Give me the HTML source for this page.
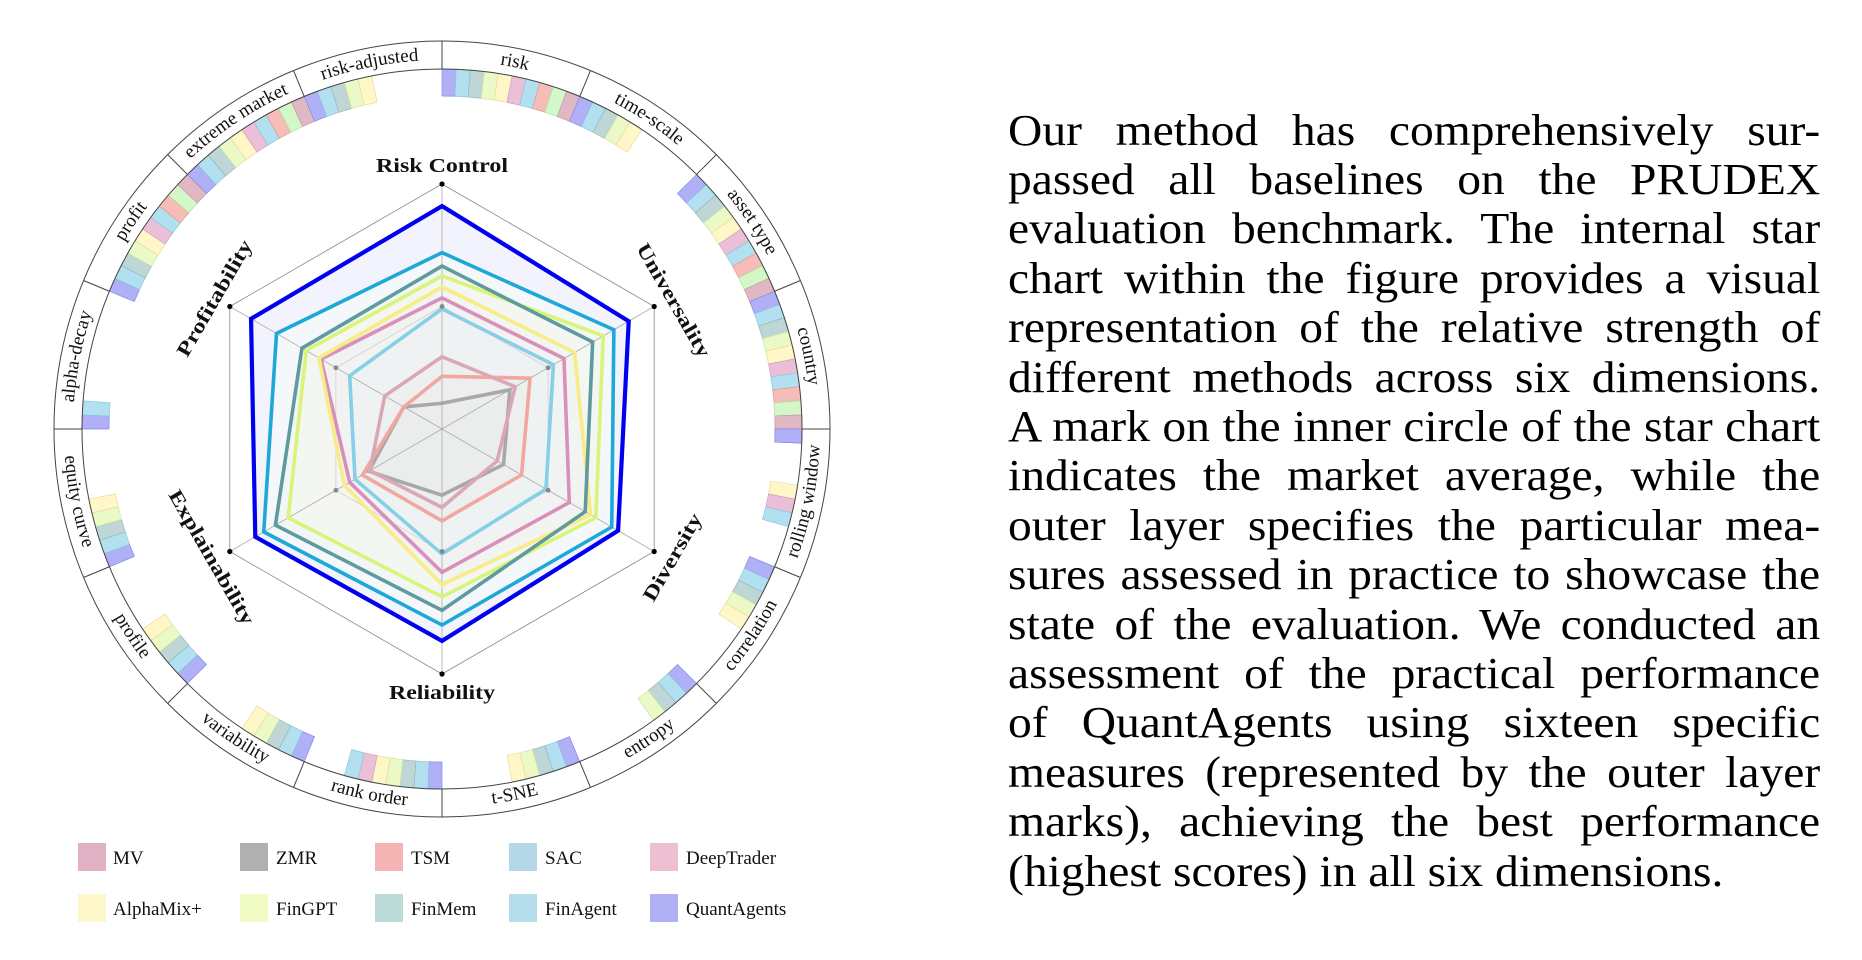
<!DOCTYPE html>
<html><head><meta charset="utf-8">
<style>
html,body{margin:0;padding:0;background:#fff;}
body{width:1862px;height:960px;position:relative;overflow:hidden;}
#txt{position:absolute;left:1008px;top:105.5px;width:752px;font-family:"Liberation Serif",serif;font-size:44px;line-height:49.4px;color:#000;transform:scaleX(1.08);transform-origin:0 0;}
#txt div{text-align:justify;text-align-last:justify;white-space:nowrap;}
#txt div.l{text-align-last:left;}
svg text{font-family:"Liberation Serif",serif;}
</style></head><body>
<svg id="fig" width="931" height="960" style="position:absolute;left:0;top:0">
<defs id="defs"></defs>
<g id="bars"></g>
<g id="ring" fill="none" stroke="#444" stroke-width="1">
<circle cx="442" cy="429" r="388"/>
<circle cx="442" cy="429" r="360"/>
</g>
<g id="radar"></g>
<g font-size="19" fill="#111" id="slabels">
<text><textPath href="#p0" startOffset="50%" text-anchor="middle">risk</textPath></text>
<text><textPath href="#p1" startOffset="50%" text-anchor="middle">time-scale</textPath></text>
<text><textPath href="#p2" startOffset="50%" text-anchor="middle">asset type</textPath></text>
<text><textPath href="#p3" startOffset="50%" text-anchor="middle">country</textPath></text>
<text><textPath href="#p4" startOffset="50%" text-anchor="middle">rolling window</textPath></text>
<text><textPath href="#p5" startOffset="50%" text-anchor="middle">correlation</textPath></text>
<text><textPath href="#p6" startOffset="50%" text-anchor="middle">entropy</textPath></text>
<text><textPath href="#p7" startOffset="50%" text-anchor="middle">t-SNE</textPath></text>
<text><textPath href="#p8" startOffset="50%" text-anchor="middle">rank order</textPath></text>
<text><textPath href="#p9" startOffset="50%" text-anchor="middle">variability</textPath></text>
<text><textPath href="#p10" startOffset="50%" text-anchor="middle">profile</textPath></text>
<text><textPath href="#p11" startOffset="50%" text-anchor="middle">equity curve</textPath></text>
<text><textPath href="#p12" startOffset="50%" text-anchor="middle">alpha-decay</textPath></text>
<text><textPath href="#p13" startOffset="50%" text-anchor="middle">profit</textPath></text>
<text><textPath href="#p14" startOffset="50%" text-anchor="middle">extreme market</textPath></text>
<text><textPath href="#p15" startOffset="50%" text-anchor="middle">risk-adjusted</textPath></text>
</g>
<g font-size="20" font-weight="bold" fill="#111" text-anchor="middle">
<text x="442" y="172" textLength="132" lengthAdjust="spacingAndGlyphs">Risk Control</text>
<text x="442" y="699" textLength="106" lengthAdjust="spacingAndGlyphs">Reliability</text>
<text transform="translate(674,300) rotate(60)" dy="7" textLength="128" lengthAdjust="spacingAndGlyphs">Universality</text>
<text transform="translate(672,557) rotate(-60)" dy="7" textLength="98" lengthAdjust="spacingAndGlyphs">Diversity</text>
<text transform="translate(212,557) rotate(60)" dy="7" textLength="152" lengthAdjust="spacingAndGlyphs">Explainability</text>
<text transform="translate(214,298) rotate(-60)" dy="7" textLength="131" lengthAdjust="spacingAndGlyphs">Profitability</text>
</g>
<g font-size="19" fill="#111">
<rect x="78" y="843" width="28" height="28" fill="#e0b2c4"/><text x="113" y="864">MV</text>
<rect x="240" y="843" width="28" height="28" fill="#b0b0b0"/><text x="276" y="864">ZMR</text>
<rect x="375" y="843" width="28" height="28" fill="#f4b4b4"/><text x="411" y="864">TSM</text>
<rect x="509" y="843" width="28" height="28" fill="#b4d8e8"/><text x="545" y="864">SAC</text>
<rect x="650" y="843" width="28" height="28" fill="#ecc0d2"/><text x="686" y="864">DeepTrader</text>
<rect x="78" y="894" width="28" height="28" fill="#fff8cc"/><text x="113" y="915">AlphaMix+</text>
<rect x="240" y="894" width="28" height="28" fill="#f0fcc4"/><text x="276" y="915">FinGPT</text>
<rect x="375" y="894" width="28" height="28" fill="#bcdad8"/><text x="411" y="915">FinMem</text>
<rect x="509" y="894" width="28" height="28" fill="#b4dcea"/><text x="545" y="915">FinAgent</text>
<rect x="650" y="894" width="28" height="28" fill="#b0b0f4"/><text x="686" y="915">QuantAgents</text>
</g>
</svg>
<div id="txt">
<div>Our method has comprehensively sur-</div>
<div>passed all baselines on the PRUDEX</div>
<div>evaluation benchmark. The internal star</div>
<div>chart within the figure provides a visual</div>
<div>representation of the relative strength of</div>
<div>different methods across six dimensions.</div>
<div>A mark on the inner circle of the star chart</div>
<div>indicates the market average, while the</div>
<div>outer layer specifies the particular mea-</div>
<div>sures assessed in practice to showcase the</div>
<div>state of the evaluation. We conducted an</div>
<div>assessment of the practical performance</div>
<div>of QuantAgents using sixteen specific</div>
<div>measures (represented by the outer layer</div>
<div>marks), achieving the best performance</div>
<div class="l">(highest scores) in all six dimensions.</div>
</div>
<script>
(function(){
var NS="http://www.w3.org/2000/svg",cx=442,cy=429;
function P(r,t){var a=t*Math.PI/180;return [cx+r*Math.sin(a),cy-r*Math.cos(a)];}
function f(p){return p[0].toFixed(2)+","+p[1].toFixed(2);}
function el(tag,attrs,parent){var e=document.createElementNS(NS,tag);for(var k in attrs)e.setAttribute(k,attrs[k]);parent.appendChild(e);return e;}
var defs=document.getElementById("defs"),bars=document.getElementById("bars"),ring=document.getElementById("ring"),radar=document.getElementById("radar");
for(var i=0;i<16;i++){
 var s=22.5*i,e=s+22.5,d;
 if(i>=4&&i<=11){var r=378;d="M"+f(P(r,e))+" A"+r+" "+r+" 0 0 0 "+f(P(r,s));}
 else{var r2=369;d="M"+f(P(r2,s))+" A"+r2+" "+r2+" 0 0 1 "+f(P(r2,e));}
 el("path",{id:"p"+i,d:d},defs);
 var a=P(360,s),b=P(388,s);
 el("line",{x1:a[0],y1:a[1],x2:b[0],y2:b[1]},ring);
}
var S=[["#b0b0f7","#8888e8"],["#b3e0f0","#8cc8dc"],["#bed6d6","#98b8b8"],["#eaf9c6","#cfe6a0"],["#fff7c8","#e8dc9c"],["#ecbfd9","#d69cbc"],["#b3e0f0","#8cc8dc"],["#f6bcb8","#e09c98"],["#d4f7c8","#b2e0a0"],["#e0b8c4","#c898a8"]];
var slots=[[0,1,2,3,4,5,6,7,8,9],[0,1,2,3,4],[0,1,2,3,4,5,6,7,8,9],[0,1,2,3,4,5,6,7,8,9,10],[0,4,5,6],[0,1,2,3,4],[0,1,2,3],[0,1,2,3,4],[0,1,2,3,4,5,6],[0,1,2,3,4],[0,1,2,3,4],[0,1,2,3,4],[0,1],[0,1,2,3,4,5,6,7,8,9],[0,1,2,3,4,5,6,7,8,9],[0,1,2,3,4]];
var w=2.25,ro=360,ri=333;
for(var i=0;i<16;i++){slots[i].forEach(function(k){
 var t1=22.5*i+k*w,t2=t1+w,c=S[k%10];
 var d="M"+f(P(ro,t1))+" A"+ro+" "+ro+" 0 0 1 "+f(P(ro,t2))+" L"+f(P(ri,t2))+" A"+ri+" "+ri+" 0 0 0 "+f(P(ri,t1))+" Z";
 el("path",{d:d,fill:c[0],stroke:c[1],"stroke-width":"0.7"},bars);
});}
var R=245;
function poly(vals){return vals.map(function(v,j){return f(P(R*v,60*j));}).join(" ");}
el("polygon",{points:poly([1,1,1,1,1,1]),fill:"#fff",stroke:"#888","stroke-width":"0.8"},radar);
var series=[
 ["#0000ee",[.91,.88,.83,.865,.88,.90],"#f3f3fe",4.2],
 ["#1ea8d8",[.72,.81,.80,.80,.84,.78],"#f4f8fa",3.6],
 ["#5f9a9e",[.665,.71,.675,.74,.785,.66],"#f3f6f6",3.6],
 ["#d8f57a",[.625,.76,.725,.685,.725,.64],"#f3f6f1",3.6],
 ["#f7ec86",[.58,.625,.70,.635,.46,.58],"#f2f4f2",3.6],
 ["#d890bb",[.535,.575,.60,.585,.435,.57],"#f1f3f3",3.6],
 ["#86cfe6",[.49,.525,.49,.51,.41,.435],"#eff2f2",3.6],
 ["#dba6b8",[.295,.345,.26,.32,.34,.27],"#eef0f0",3.6],
 ["#f0a89e",[.215,.415,.375,.375,.375,.18],"#edefef",3.6],
 ["#a8a8a8",[.105,.32,.29,.27,.345,.18],"#ebeded",3.6]];
series.forEach(function(s){el("polygon",{points:poly(s[1]),fill:s[2],stroke:"none"},radar);});
el("polygon",{points:poly([.5,.5,.5,.5,.5,.5]),fill:"none",stroke:"#d0d0d0","stroke-width":"0.8"},radar);
for(var j=0;j<6;j++){var p=P(R,60*j);el("line",{x1:cx,y1:cy,x2:p[0],y2:p[1],stroke:"#aaa","stroke-width":"0.8"},radar);}
for(var k=series.length-1;k>=0;k--){var s=series[k];el("polygon",{points:poly(s[1]),fill:"none",stroke:s[0],"stroke-width":s[3],"stroke-linejoin":"miter"},radar);}
for(var j=0;j<6;j++){var p=P(R,60*j);el("circle",{cx:p[0],cy:p[1],r:2.6,fill:"#000"},radar);var q=P(R/2,60*j);el("circle",{cx:q[0],cy:q[1],r:2.4,fill:"#888"},radar);}
})();
</script>
</body></html>
